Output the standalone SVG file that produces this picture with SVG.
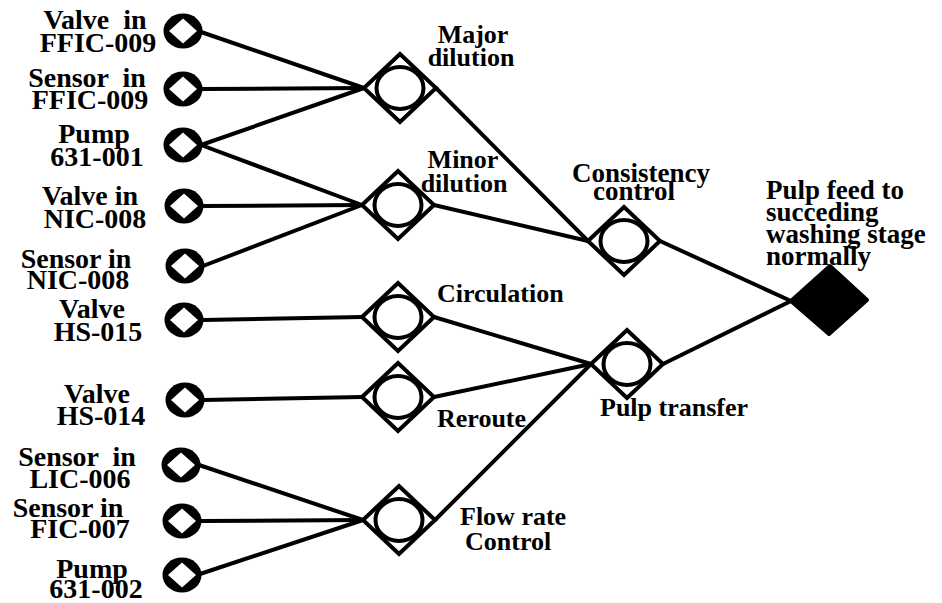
<svg xmlns="http://www.w3.org/2000/svg" xmlns:xlink="http://www.w3.org/1999/xlink" width="942" height="603" viewBox="0 0 942 603">
  <style>
    text { font-family: "Liberation Serif", "Times New Roman", serif; font-weight: bold; fill: #000; white-space: pre; }
    .lbl { font-size: 28px; text-anchor: middle; }
    .gl { font-size: 26px; }
    .top { font-size: 27px; }
    .wire { stroke: #000; stroke-width: 4; fill: none; stroke-linecap: round; }
    .gate-d { fill: #fff; stroke: #000; stroke-width: 4; stroke-linejoin: miter; }
    .gate-c { fill: #fff; stroke: #000; stroke-width: 4; }
  </style>
  <defs>
    <!-- basic event: black ring with a diamond-shaped hole -->
    <g id="leaf">
      <ellipse cx="0" cy="0" rx="19.5" ry="17.5" fill="#000"/>
      <polygon points="-14,0 0,-12.5 14,0 0,12.5" fill="#fff"/>
    </g>
    <!-- intermediate event: diamond enclosing a circle -->
    <g id="gate">
      <polygon class="gate-d" points="-36,0 0,-34 36,0 0,34"/>
      <ellipse class="gate-c" cx="0" cy="0" rx="23.5" ry="21"/>
    </g>
  </defs>

  <rect width="942" height="603" fill="#fff"/>

  <!-- connectors -->
  <g id="connectors" class="wire">
    <line x1="201" y1="32" x2="364" y2="88"/>
    <line x1="201" y1="89" x2="364" y2="88"/>
    <line x1="201" y1="145" x2="364" y2="88"/>
    <line x1="201" y1="145" x2="362" y2="205"/>
    <line x1="202" y1="206" x2="362" y2="205"/>
    <line x1="203" y1="266" x2="362" y2="205"/>
    <line x1="203" y1="320" x2="362" y2="317"/>
    <line x1="203" y1="400" x2="362" y2="397"/>
    <line x1="199" y1="465" x2="363" y2="520"/>
    <line x1="200" y1="521" x2="363" y2="520"/>
    <line x1="200" y1="574" x2="363" y2="520"/>
    <line x1="436" y1="88" x2="588" y2="241"/>
    <line x1="434" y1="205" x2="588" y2="241"/>
    <line x1="434" y1="317" x2="591" y2="364"/>
    <line x1="434" y1="397" x2="591" y2="364"/>
    <line x1="435" y1="520" x2="591" y2="364"/>
    <line x1="660" y1="241" x2="791" y2="301"/>
    <line x1="663" y1="364" x2="791" y2="301"/>
  </g>

  <!-- basic events -->
  <g id="valve-ffic-009">
    <use xlink:href="#leaf" x="183" y="31"/>
    <text class="lbl" x="95" y="29" xml:space="preserve">Valve  in</text>
    <text class="lbl" x="98" y="52">FFIC-009</text>
  </g>
  <g id="sensor-ffic-009">
    <use xlink:href="#leaf" x="183" y="89"/>
    <text class="lbl" x="87" y="87" xml:space="preserve">Sensor  in</text>
    <text class="lbl" x="90" y="109">FFIC-009</text>
  </g>
  <g id="pump-631-001">
    <use xlink:href="#leaf" x="183" y="145"/>
    <text class="lbl" x="94" y="143">Pump</text>
    <text class="lbl" x="97" y="166">631-001</text>
  </g>
  <g id="valve-nic-008">
    <use xlink:href="#leaf" x="184" y="206"/>
    <text class="lbl" x="90" y="205">Valve in</text>
    <text class="lbl" x="95" y="228">NIC-008</text>
  </g>
  <g id="sensor-nic-008">
    <use xlink:href="#leaf" x="185" y="266"/>
    <text class="lbl" x="76" y="268">Sensor in</text>
    <text class="lbl" x="78" y="289">NIC-008</text>
  </g>
  <g id="valve-hs-015">
    <use xlink:href="#leaf" x="184" y="320"/>
    <text class="lbl" x="92" y="318">Valve</text>
    <text class="lbl" x="98" y="341">HS-015</text>
  </g>
  <g id="valve-hs-014">
    <use xlink:href="#leaf" x="185" y="400"/>
    <text class="lbl" x="97" y="403">Valve</text>
    <text class="lbl" x="101" y="425">HS-014</text>
  </g>
  <g id="sensor-lic-006">
    <use xlink:href="#leaf" x="181" y="465"/>
    <text class="lbl" x="77" y="466" xml:space="preserve">Sensor  in</text>
    <text class="lbl" x="80" y="488">LIC-006</text>
  </g>
  <g id="sensor-fic-007">
    <use xlink:href="#leaf" x="182" y="521"/>
    <text class="lbl" x="68" y="517">Sensor in</text>
    <text class="lbl" x="80" y="538">FIC-007</text>
  </g>
  <g id="pump-631-002">
    <use xlink:href="#leaf" x="182" y="575"/>
    <text class="lbl" x="92" y="578">Pump</text>
    <text class="lbl" x="96" y="598">631-002</text>
  </g>

  <!-- intermediate events -->
  <g id="major-dilution">
    <use xlink:href="#gate" x="400" y="88"/>
    <text class="gl" x="473" y="43" text-anchor="middle">Major</text>
    <text class="gl" x="471" y="66" text-anchor="middle">dilution</text>
  </g>
  <g id="minor-dilution">
    <use xlink:href="#gate" x="398" y="205"/>
    <text class="gl" x="463" y="168" text-anchor="middle">Minor</text>
    <text class="gl" x="464" y="192" text-anchor="middle">dilution</text>
  </g>
  <g id="circulation">
    <use xlink:href="#gate" x="398" y="317"/>
    <text class="gl" x="437" y="302">Circulation</text>
  </g>
  <g id="reroute">
    <use xlink:href="#gate" x="398" y="397"/>
    <text class="gl" x="437" y="427">Reroute</text>
  </g>
  <g id="flow-rate-control">
    <use xlink:href="#gate" x="399" y="520"/>
    <text class="gl" x="460" y="525">Flow rate</text>
    <text class="gl" x="465" y="550">Control</text>
  </g>
  <g id="consistency-control">
    <use xlink:href="#gate" x="624" y="241"/>
    <text class="top" x="572" y="182">Consistency</text>
    <text class="top" x="593" y="200">control</text>
  </g>
  <g id="pulp-transfer">
    <use xlink:href="#gate" x="627" y="364"/>
    <text class="gl" x="600" y="416">Pulp transfer</text>
  </g>

  <!-- top event -->
  <g id="pulp-feed">
    <polygon points="791,301 830,266 867,300 829,334" fill="#000" stroke="#000" stroke-width="4" stroke-linejoin="round"/>
    <text class="top" x="766" y="199">Pulp feed to</text>
    <text class="top" x="766" y="221">succeding</text>
    <text class="top" x="766" y="243">washing stage</text>
    <text class="top" x="766" y="265">normally</text>
  </g>
</svg>
